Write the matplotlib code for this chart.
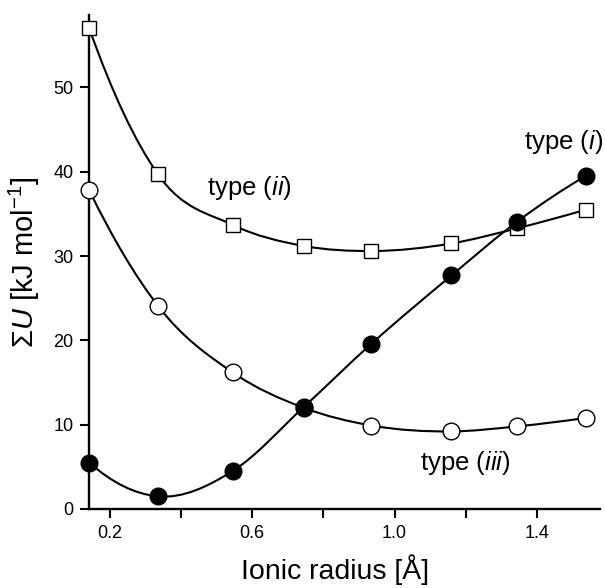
import numpy as np
import matplotlib
matplotlib.use("Agg")
import matplotlib.pyplot as plt
from matplotlib.path import Path
from matplotlib.patches import PathPatch

plt.rcParams['font.family'] = ['Liberation Sans', 'DejaVu Sans']
plt.rcParams['mathtext.fontset'] = 'custom'
plt.rcParams['mathtext.rm'] = 'Liberation Sans'
plt.rcParams['mathtext.it'] = 'Liberation Sans:italic'
plt.rcParams['mathtext.bf'] = 'Liberation Sans:bold'

# ---- data ----
radius = [0.142, 0.335, 0.545, 0.745, 0.935, 1.160, 1.345, 1.537]
type_i = [5.5, 1.5, 4.5, 12.1, 19.6, 27.7, 34.1, 39.5]
type_ii = [57.0, 39.7, 33.7, 31.2, 30.6, 31.5, 33.3, 35.5]
type_iii = [37.8, 24.1, 16.2, 12.0, 9.9, 9.2, 9.8, 10.8]
x_ticks = [0.2, 0.4, 0.6, 0.8, 1.0, 1.2, 1.4]
x_ticklabels = ['0.2', '', '0.6', '', '1.0', '', '1.4']
y_ticks = [0, 10, 20, 30, 40, 50]


def smooth_path(xs, ys):
    xs = np.asarray(xs, float)
    ys = np.asarray(ys, float)
    h = np.diff(xs)
    d = np.diff(ys) / h
    n = len(xs)
    m = np.zeros(n)
    for k in range(1, n - 1):
        m[k] = (d[k - 1] * h[k] + d[k] * h[k - 1]) / (h[k - 1] + h[k])
    m[0] = 2 * d[0] - m[1]
    m[-1] = 2 * d[-1] - m[-2]
    verts = [(xs[0], ys[0])]
    codes = [Path.MOVETO]
    for k in range(n - 1):
        c1 = (xs[k] + h[k] / 3, ys[k] + m[k] * h[k] / 3)
        c2 = (xs[k + 1] - h[k] / 3, ys[k + 1] - m[k + 1] * h[k] / 3)
        verts += [c1, c2, (xs[k + 1], ys[k + 1])]
        codes += [Path.CURVE4] * 3
    return Path(verts, codes)


fig = plt.figure(figsize=(6.05, 5.88), dpi=100)
ax = fig.add_axes([0.1476, 0.1344, 0.8444, 0.8401])

lw = 1.5
for ys, mk, fc, ms in [(type_ii, 's', 'white', 10.5),
                       (type_iii, 'o', 'white', 12),
                       (type_i, 'o', 'black', 12)]:
    patch = PathPatch(smooth_path(radius, ys), facecolor='none',
                      edgecolor='black', lw=lw, clip_on=False)
    ax.add_patch(patch)
    ax.plot(radius, ys, linestyle='none', marker=mk, markersize=ms,
            markerfacecolor=fc, markeredgecolor='black',
            markeredgewidth=1.0, clip_on=False, zorder=3)

ax.set_xlim(0.142, 1.578)
ax.set_ylim(0, 58.6)
ax.spines['top'].set_visible(False)
ax.spines['right'].set_visible(False)
for s in ('left', 'bottom'):
    ax.spines[s].set_linewidth(1.7)

ax.set_xticks(x_ticks)
ax.set_xticklabels(x_ticklabels)
ax.set_yticks(y_ticks)
ax.tick_params(direction='out', length=6.5, width=1.5, labelsize=13, pad=5)

ax.set_xlabel('Ionic radius [Å]', fontsize=20.5, labelpad=9, x=0.482)
ax.set_ylabel(r'$\Sigma U$ [kJ mol$^{-1}$]', fontsize=21, labelpad=8)

ax.text(0.592, 37.2, r'type ($\mathit{ii}$)', fontsize=18.5, ha='center', va='baseline')
ax.text(1.474, 42.65, r'type ($\mathit{i}$)', fontsize=18.5, ha='center', va='baseline')
ax.text(1.199, 4.62, r'type ($\mathit{iii}$)', fontsize=18.5, ha='center', va='baseline')

fig.savefig('out.png', dpi=100)
